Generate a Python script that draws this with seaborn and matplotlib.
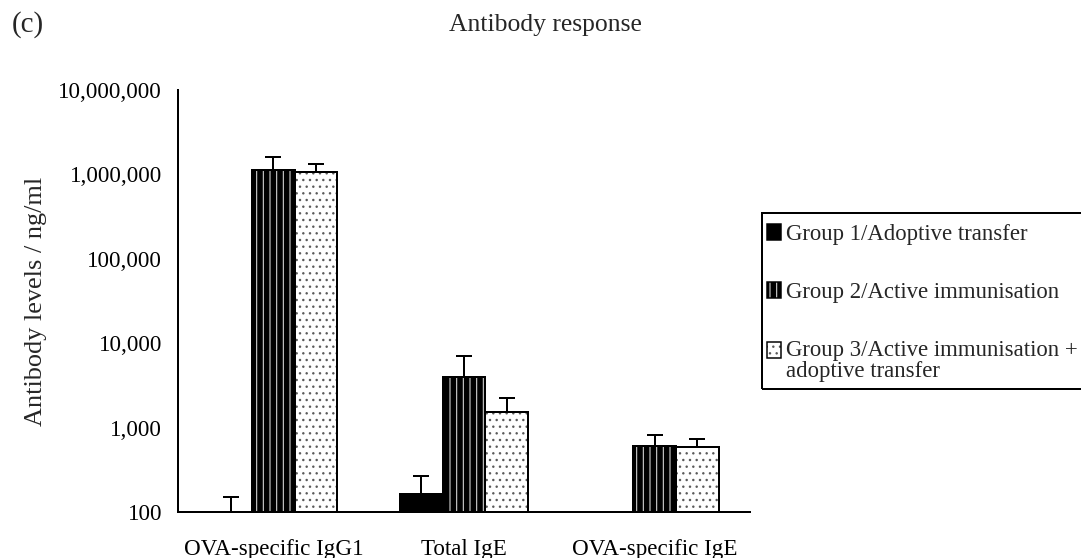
import numpy as np
import pandas as pd
import matplotlib
matplotlib.use("Agg")
import matplotlib.pyplot as plt
import matplotlib.patches as mpatches
from matplotlib.ticker import FixedLocator, FuncFormatter, NullLocator
import seaborn as sns

# ---- data -------------------------------------------------------------
categories = ["OVA-specific IgG1", "Total IgE", "OVA-specific IgE"]
groups = [
    "Group 1/Adoptive transfer",
    "Group 2/Active immunisation",
    "Group 3/Active immunisation +\nadoptive transfer",
]
group1_mean = [100, 163, np.nan]
group1_err = [50, 104, np.nan]
group2_mean = [1120000, 3980, 606]
group2_err = [490000, 3100, 209]
group3_mean = [1070000, 1530, 590]
group3_err = [250000, 710, 143]
y_ticks = [1e2, 1e3, 1e4, 1e5, 1e6, 1e7]

means = [group1_mean, group2_mean, group3_mean]
errs = [group1_err, group2_err, group3_err]

rows = []
for g, m_list, e_list in zip(groups, means, errs):
    for c, m, e in zip(categories, m_list, e_list):
        rows.append({"category": c, "group": g, "value": m, "err": e})
df = pd.DataFrame(rows)

# ---- style ------------------------------------------------------------
DPI = 120
W_PX, H_PX = 1081, 558


def px(n):
    """Convert a size in pixels to points at the output resolution."""
    return n * 72.0 / DPI


sns.set_style("white")
plt.rcParams["font.family"] = ["Liberation Serif", "DejaVu Serif"]
plt.rcParams["hatch.linewidth"] = px(1.1)

face_colors = ["black", "black", "white"]
hatches = [None, "|||", "..."]
hatch_colors = [None, "#d4d4d4", "#5a5a5a"]

FS = px(23)        # tick labels, category labels
FS_LEGEND = px(22.8)
FS_TITLE = px(25.7)
FS_YLABEL = px(26.3)
FS_PANEL = px(29)


def style_patch(p, i, lw):
    p.set_facecolor(face_colors[i])
    p.set_edgecolor("black")
    p.set_linewidth(lw)
    if hatches[i]:
        p.set_hatch(hatches[i])
        p._hatch_color = matplotlib.colors.to_rgba(hatch_colors[i])


fig = plt.figure(figsize=(W_PX / DPI, H_PX / DPI), dpi=DPI)
ax = fig.add_axes([178 / W_PX, 1 - 512 / H_PX, (750 - 178) / W_PX, (512 - 90) / H_PX])

sns.barplot(
    data=df.dropna(subset=["value"]),
    x="category",
    y="value",
    hue="group",
    order=categories,
    hue_order=groups,
    palette=face_colors,
    width=0.67,
    gap=0,
    errorbar=None,
    log_scale=True,
    legend=False,
    ax=ax,
)

# style bars and add upper error bars at each bar's centre
for i, (g, cont) in enumerate(zip(groups, ax.containers)):
    sub = df[(df["group"] == g) & df["value"].notna()]
    present = set(sub["category"])
    sub = sub.set_index("category").reindex([c for c in categories if c in present])
    xs, ys, es = [], [], []
    for p, (_, r) in zip(cont.patches, sub.iterrows()):
        style_patch(p, i, px(2))
        xs.append(p.get_x() + p.get_width() / 2)
        ys.append(r["value"])
        es.append(r["err"])
    es = np.array(es)
    _, caps, _ = ax.errorbar(
        xs, ys, yerr=[np.zeros_like(es), es], fmt="none",
        ecolor="black", elinewidth=px(2), capsize=px(8), capthick=px(2), zorder=5,
    )
    caps[0].set_visible(False)

# ---- axes -------------------------------------------------------------
ax.set_yscale("log")
ax.set_ylim(1e2, 1e7)
ax.set_xlim(-0.5, 2.5)
ax.yaxis.set_major_locator(FixedLocator(y_ticks))
ax.yaxis.set_minor_locator(NullLocator())
ax.yaxis.set_major_formatter(FuncFormatter(lambda v, _: f"{int(round(v)):,}"))
ax.set_xticks(range(len(categories)))
ax.set_xticklabels(categories)
ax.set_xticks([-0.5, 0.5, 1.5, 2.5], minor=True)
ax.tick_params(axis="x", which="major", length=0, pad=px(27), labelsize=FS, colors="black")
ax.tick_params(axis="x", which="minor", length=px(7), width=px(2), direction="out", color="black")
ax.tick_params(axis="y", which="major", length=px(7), width=px(2), direction="out",
               pad=px(9), labelsize=FS, colors="black")
for s in ["top", "right"]:
    ax.spines[s].set_visible(False)
for s in ["left", "bottom"]:
    ax.spines[s].set_linewidth(px(2))
    ax.spines[s].set_color("black")
ax.set_xlabel("")
ax.set_ylabel("Antibody levels / ng/ml", fontsize=FS_YLABEL, labelpad=px(11))
ax.grid(False)

# ---- titles -----------------------------------------------------------
fig.text(545 / W_PX, 1 - 25 / H_PX, "Antibody response", ha="center", va="center",
         fontsize=FS_TITLE)
fig.text(12 / W_PX, 1 - 25 / H_PX, "(c)", ha="left", va="center", fontsize=FS_PANEL)

# ---- legend -----------------------------------------------------------
handles = []
for i in range(3):
    h = mpatches.Rectangle((0, 0), 1, 1)
    style_patch(h, i, px(1.5))
    handles.append(h)
leg = fig.legend(
    handles, groups, loc="upper left",
    bbox_to_anchor=(762 / W_PX, 1 - 219.5 / H_PX), bbox_transform=fig.transFigure,
    borderaxespad=0, borderpad=0.2, fontsize=FS_LEGEND,
    handlelength=0.65, handleheight=0.65, handletextpad=0.2, labelspacing=1.62,
    frameon=False,
)
for t in leg.get_texts():
    t.set_linespacing(1.0)
# keep the two-line entry's swatch level with its first line
last = leg.legend_handles[2]
last.set_y(last.get_y() + px(11))

# legend box, running past the right edge of the figure
fig.add_artist(mpatches.Rectangle(
    (762 / W_PX, 1 - 389 / H_PX), (1100 - 762) / W_PX, (389 - 213) / H_PX,
    transform=fig.transFigure, fill=False, edgecolor="black", linewidth=px(2),
))

fig.savefig("out.png", dpi=DPI)
